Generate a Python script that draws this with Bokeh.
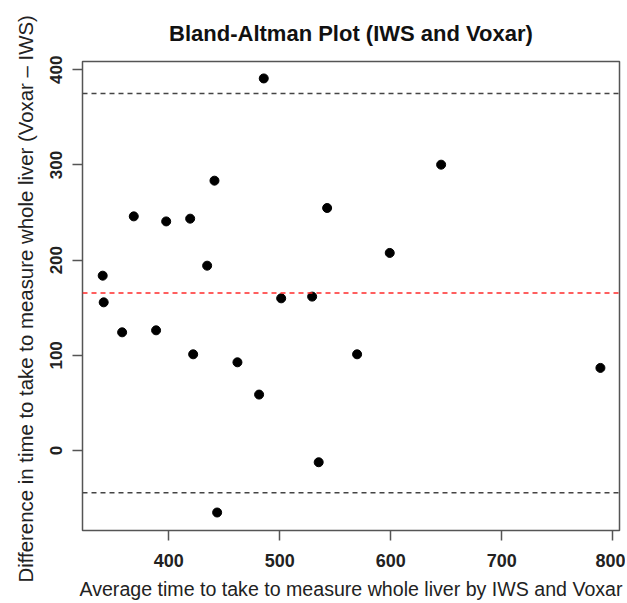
from bokeh.plotting import figure
from bokeh.models import Range1d, FixedTicker, Span
from bokeh.embed import file_html
from bokeh.resources import INLINE

# Data
avg_time = [485.6, 340.5, 368.5, 397.7, 419.3, 441.2, 434.6, 341.4, 501.3, 529.2, 358.0,
            388.6, 422.0, 461.9, 481.4, 443.6, 535.1, 542.7, 645.4, 599.1, 569.7, 788.9]
diff_time = [390.9, 183.7, 246.0, 240.7, 243.6, 283.5, 194.2, 155.7, 159.9, 161.7, 124.2,
             126.3, 101.1, 92.7, 58.8, -65.1, -12.3, 254.8, 300.3, 207.6, 101.1, 86.8]
mean_diff = 165.6
upper_limit = 375.2
lower_limit = -44.4
x_ticks = [400, 500, 600, 700, 800]
y_ticks = [0, 100, 200, 300, 400]

title_text = "Bland-Altman Plot (IWS and Voxar)"
x_label = "Average time to take to measure whole liver by IWS and Voxar"
y_label = "Difference in time to take to measure whole liver  (Voxar \u2013 IWS)"

FONT = "Liberation Sans"
BOX = "#555555"

p = figure(frame_width=537, frame_height=469,
           min_border_left=82, min_border_right=6, min_border_top=61, min_border_bottom=70,
           x_range=Range1d(322.3, 806.1), y_range=Range1d(-84.0, 408.7),
           output_backend="svg", toolbar_location=None, title=title_text)

p.title.align = "center"
p.title.text_font = FONT
p.title.text_font_size = "22px"
p.title.text_font_style = "bold"
p.title.text_color = "#111111"
p.title.standoff = 32

p.grid.visible = False
p.outline_line_color = BOX
p.outline_line_width = 1.5
p.background_fill_color = "white"
p.border_fill_color = "white"

for ax in (p.xaxis[0], p.yaxis[0]):
    ax.axis_line_color = None
    ax.major_tick_line_color = BOX
    ax.major_tick_line_width = 1.5
    ax.major_tick_out = 10
    ax.major_tick_in = 0
    ax.minor_tick_line_color = None
    ax.major_label_text_font = FONT
    ax.major_label_text_font_style = "bold"
    ax.major_label_text_color = "#222222"
    ax.axis_label_text_font = FONT
    ax.axis_label_text_font_style = "normal"
    ax.axis_label_text_color = "#222222"

p.xaxis.ticker = FixedTicker(ticks=x_ticks)
p.yaxis.ticker = FixedTicker(ticks=y_ticks)
p.xaxis.major_label_text_font_size = "18px"
p.yaxis.major_label_text_font_size = "17px"
p.yaxis.major_label_orientation = "vertical"
p.xaxis.major_label_standoff = 13
p.yaxis.major_label_standoff = 10
p.xaxis.axis_label = x_label
p.yaxis.axis_label = y_label
p.xaxis.axis_label_text_font_size = "19.6px"
p.yaxis.axis_label_text_font_size = "20.4px"
p.xaxis.axis_label_standoff = 8
p.yaxis.axis_label_standoff = 11

p.add_layout(Span(location=upper_limit, dimension="width", line_color="#444444",
                  line_width=1.5, line_dash="5 4"))
p.add_layout(Span(location=lower_limit, dimension="width", line_color="#444444",
                  line_width=1.5, line_dash="5 4"))
p.add_layout(Span(location=mean_diff, dimension="width", line_color="#ff2a2a",
                  line_width=1.5, line_dash="5 4"))

p.scatter(avg_time, diff_time, size=9, color="black")

open("out.html", "w").write(file_html(p, INLINE))
